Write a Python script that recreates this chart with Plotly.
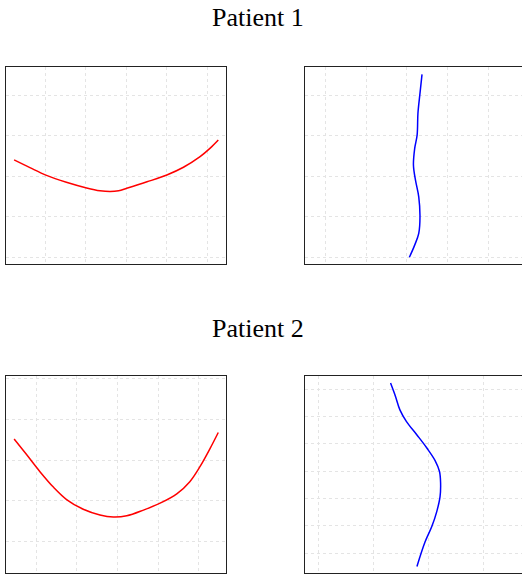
import plotly.graph_objects as go

# Patient 1 - left panel (red)
p1_red_x = [-0.77, -0.38, 0.03, 0.52, 1.02, 1.35, 1.60, 1.81, 2.01, 2.51, 3.00, 3.41, 3.82, 4.07, 4.27]
p1_red_y = [2.40, 2.21, 2.02, 1.85, 1.71, 1.64, 1.62, 1.64, 1.70, 1.86, 2.03, 2.22, 2.48, 2.69, 2.89]

# Patient 1 - right panel (blue)
p1_blue_x = [2.37, 2.32, 2.27, 2.25, 2.19, 2.16, 2.21, 2.29, 2.32, 2.29, 2.19, 2.06]
p1_blue_y = [4.51, 4.04, 3.55, 3.01, 2.68, 2.27, 1.90, 1.49, 1.00, 0.59, 0.30, 0.00]

# Patient 2 - left panel (red)
p2_red_x = [-0.54, -0.23, 0.10, 0.43, 0.75, 1.16, 1.57, 1.90, 2.23, 2.64, 3.05, 3.46, 3.78, 4.03, 4.28, 4.48]
p2_red_y = [2.52, 2.13, 1.71, 1.33, 1.03, 0.79, 0.65, 0.60, 0.63, 0.77, 0.94, 1.17, 1.47, 1.84, 2.29, 2.68]

# Patient 2 - right panel (blue)
p2_blue_x = [1.31, 1.40, 1.48, 1.60, 1.79, 1.97, 2.12, 2.20, 2.22, 2.21, 2.15, 2.06, 1.94, 1.79]
p2_blue_y = [6.23, 5.74, 5.25, 4.82, 4.33, 3.85, 3.39, 2.99, 2.56, 2.07, 1.52, 0.97, 0.42, -0.49]

titles = ["Patient 1", "Patient 2"]

fig = go.Figure()
fig.add_trace(go.Scatter(x=p1_red_x, y=p1_red_y, mode="lines", line=dict(color="red", width=1.5, shape="spline"), xaxis="x", yaxis="y"))
fig.add_trace(go.Scatter(x=p1_blue_x, y=p1_blue_y, mode="lines", line=dict(color="blue", width=1.5, shape="spline"), xaxis="x2", yaxis="y2"))
fig.add_trace(go.Scatter(x=p2_red_x, y=p2_red_y, mode="lines", line=dict(color="red", width=1.5, shape="spline"), xaxis="x3", yaxis="y3"))
fig.add_trace(go.Scatter(x=p2_blue_x, y=p2_blue_y, mode="lines", line=dict(color="blue", width=1.5, shape="spline"), xaxis="x4", yaxis="y4"))

W, H = 522, 574
def dx(a, b):
    return [a / W, b / W]
def dy(top, bot):
    return [1 - bot / H, 1 - top / H]

grid = dict(showgrid=True, gridcolor="#e4e4e4", gridwidth=1, griddash="dot",
            zeroline=False, showticklabels=False, ticks="", showline=True,
            linecolor="#222", linewidth=1, fixedrange=True)

fig.update_layout(
    width=W, height=H, margin=dict(l=0, r=0, t=0, b=0),
    paper_bgcolor="white", plot_bgcolor="white", showlegend=False,
    xaxis=dict(domain=dx(6, 226), range=[-0.97, 4.46], dtick=1, tick0=0, mirror=True, anchor="y", **grid),
    yaxis=dict(domain=dy(67, 264), range=[-0.165, 4.69], dtick=1, tick0=0, mirror=True, anchor="x", **grid),
    xaxis2=dict(domain=dx(305.3, 522), range=[-0.49, 4.82], dtick=1, tick0=0, mirror=True, anchor="y2", **grid),
    yaxis2=dict(domain=dy(67, 264), range=[-0.165, 4.69], dtick=1, tick0=0, mirror=False, anchor="x2", **grid),
    xaxis3=dict(domain=dx(6, 226), range=[-0.74, 4.67], dtick=1, tick0=0, mirror=True, anchor="y3", **grid),
    yaxis3=dict(domain=dy(376, 572.7), range=[-0.77, 4.07], dtick=1, tick0=0, mirror=True, anchor="x3", **grid),
    xaxis4=dict(domain=dx(305.3, 522), range=[-0.24, 3.70], dtick=1, tick0=0, mirror=True, anchor="y4", **grid),
    yaxis4=dict(domain=dy(376, 572.7), range=[-0.72, 6.49], dtick=1, tick0=0, mirror=False, anchor="x4", **grid),
    annotations=[
        dict(text=titles[0], x=257.5 / W, y=1 - 18 / H, xref="paper", yref="paper", showarrow=False,
             xanchor="center", yanchor="middle", font=dict(family="Liberation Serif", size=26, color="black")),
        dict(text=titles[1], x=257.5 / W, y=1 - 328 / H, xref="paper", yref="paper", showarrow=False,
             xanchor="center", yanchor="middle", font=dict(family="Liberation Serif", size=26, color="black")),
    ],
)

fig.write_html("out.html", config={"displayModeBar": False},
               post_script="document.body.style.margin='0';document.body.style.overflow='hidden';")
